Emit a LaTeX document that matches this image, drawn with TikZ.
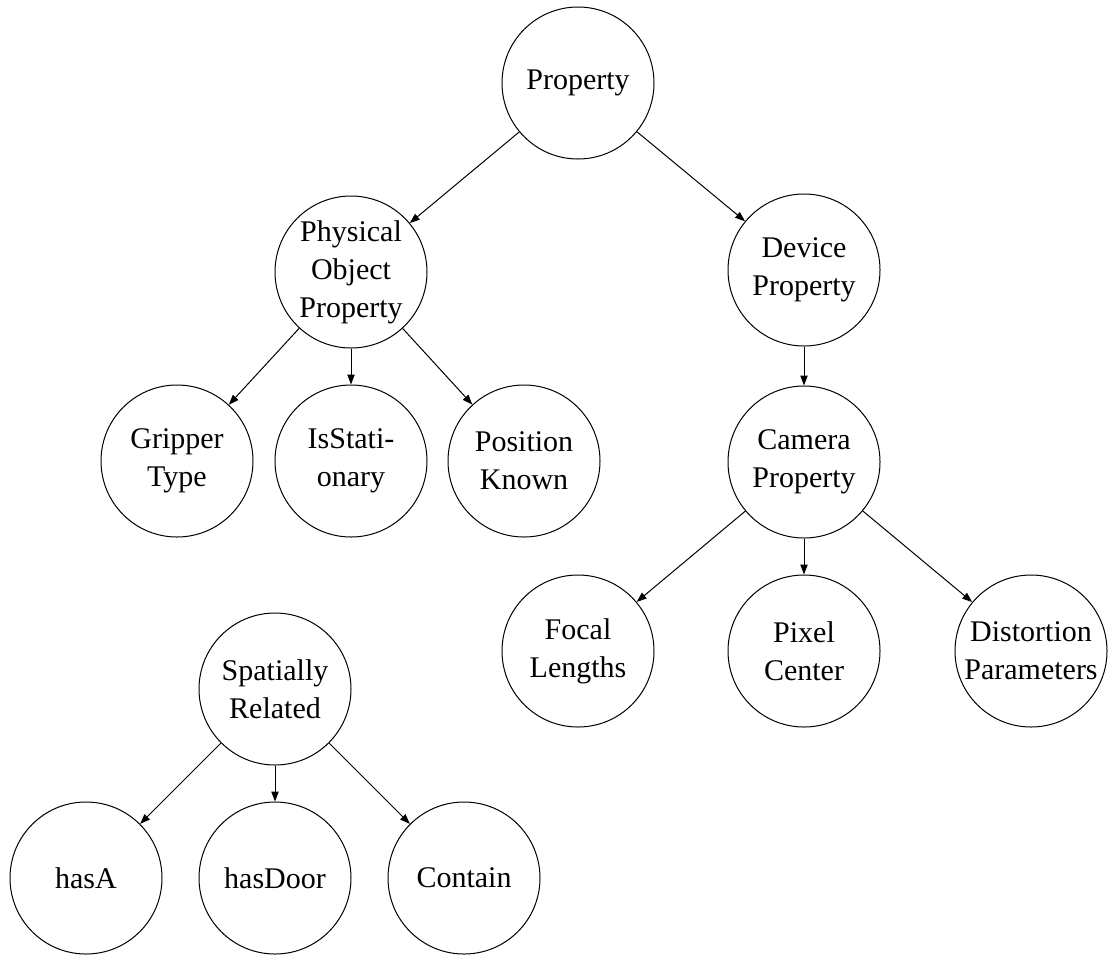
\documentclass[tikz,border=0pt]{standalone}
\usepackage{fontspec}
\setmainfont{Liberation Serif}
\usetikzlibrary{arrows.meta}
\begin{document}
\begin{tikzpicture}[x=0.75pt,y=-0.75pt,
  concept/.style={circle,draw,line width=0.75pt,minimum size=114pt,inner sep=0pt,
    align=center,font=\fontsize{22.5}{28.5}\selectfont},
  link/.style={line width=0.75pt,-{Triangle[length=7.5pt,width=5.5pt]}}]
\useasboundingbox (0,0) rectangle (1109,954);
% property hierarchy
\node[concept] (prop) at (578,83) {Property};
\node[concept] (phys) at (351,272) {Physical\\Object\\Property};
\node[concept] (dev) at (804,270) {Device\\Property};
\node[concept] (grip) at (177,461) {Gripper\\Type};
\node[concept] (stat) at (351,461) {IsStati-\\onary};
\node[concept] (pos) at (524,461) {Position\\Known};
\node[concept] (cam) at (804,462) {Camera\\Property};
\node[concept] (focal) at (578,651) {Focal\\Lengths};
\node[concept] (pix) at (804,651) {Pixel\\Center};
\node[concept] (dist) at (1031,651) {Distortion\\Parameters};
% spatial relations
\node[concept] (spat) at (275,689) {Spatially\\Related};
\node[concept] (hasa) at (86,878) {hasA};
\node[concept] (door) at (275,878) {hasDoor};
\node[concept] (cont) at (464,878) {Contain};
\draw[link] (prop) -- (phys);
\draw[link] (prop) -- (dev);
\draw[link] (phys) -- (grip);
\draw[link] (phys) -- (stat);
\draw[link] (phys) -- (pos);
\draw[link] (dev) -- (cam);
\draw[link] (cam) -- (focal);
\draw[link] (cam) -- (pix);
\draw[link] (cam) -- (dist);
\draw[link] (spat) -- (hasa);
\draw[link] (spat) -- (door);
\draw[link] (spat) -- (cont);
\end{tikzpicture}
\end{document}
